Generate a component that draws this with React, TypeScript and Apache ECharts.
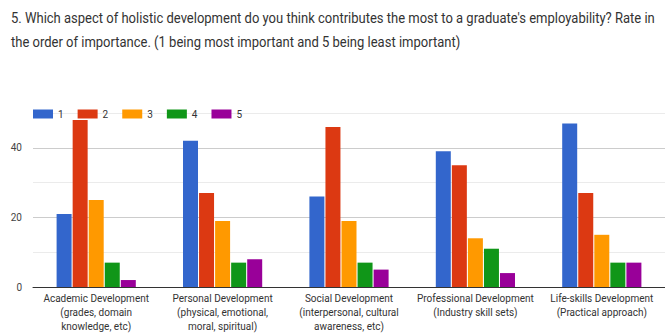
import React, { useEffect, useRef } from "react";
import * as echarts from "echarts";

const categories = [
  "Academic Development\n(grades, domain\nknowledge, etc)",
  "Personal Development\n(physical, emotional,\nmoral, spiritual)",
  "Social Development\n(interpersonal, cultural\nawareness, etc)",
  "Professional Development\n(Industry skill sets)",
  "Life-skills Development\n(Practical approach)",
];
const seriesNames = ["1", "2", "3", "4", "5"];
const rank1 = [21, 42, 26, 39, 47];
const rank2 = [48, 27, 46, 35, 27];
const rank3 = [25, 19, 19, 14, 15];
const rank4 = [7, 7, 7, 11, 7];
const rank5 = [2, 8, 5, 4, 7];
const colors = ["#3366cc", "#dc3912", "#ff9900", "#109618", "#990099"];
const titleLines = [
  "5. Which aspect of holistic development do you think contributes the most to a graduate's employability? Rate in",
  "the order of importance. (1 being most important and 5 being least important)",
];

export default function App() {
  const ref = useRef<HTMLDivElement>(null);
  useEffect(() => {
    if (!ref.current) return;
    const chart = echarts.init(ref.current, null, { renderer: "svg" });
    const data = [rank1, rank2, rank3, rank4, rank5];
    chart.setOption({
      animation: false,
      color: colors,
      textStyle: { fontFamily: "Roboto" },
      graphic: titleLines.map((t, i) => ({
        type: "text",
        x: 11,
        y: 18 + i * 24,
        scaleX: 0.93,
        style: {
          text: t,
          fontSize: 14,
          fontFamily: "Roboto",
          fill: "#333",
          textVerticalAlign: "middle",
        },
      })),
      legend: {
        left: 33,
        top: 109,
        padding: 0,
        itemWidth: 20,
        itemHeight: 9,
        itemGap: 14,
        icon: "rect",
        textStyle: { fontSize: 10, color: "#333" },
        data: seriesNames,
      },
      grid: { left: 33, right: -11, top: 113, bottom: 45 },
      xAxis: {
        type: "category",
        data: categories,
        axisTick: { show: false },
        axisLine: { lineStyle: { color: "#333" } },
        axisLabel: {
          fontSize: 10,
          color: "#333",
          lineHeight: 14,
          margin: 4,
          interval: 0,
        },
      },
      yAxis: {
        type: "value",
        min: 0,
        max: 50,
        interval: 10,
        axisLine: { show: false },
        axisTick: { show: false },
        axisLabel: {
          fontSize: 10,
          color: "#444",
          margin: 11,
          formatter: (v: number) => (v % 20 === 0 ? String(v) : ""),
        },
        splitLine: {
          lineStyle: {
            color: ["#cccccc", "#ebebeb", "#cccccc", "#ebebeb", "#cccccc", "#ebebeb"],
          },
        },
      },
      series: data.map((d, i) => ({
        name: seriesNames[i],
        type: "bar",
        data: d,
        barWidth: 15,
        barGap: "7%",
        barCategoryGap: "38%",
      })),
    });
    return () => chart.dispose();
  }, []);
  return (
    <div
      ref={ref}
      style={{ position: "fixed", left: 0, top: 0, width: 665, height: 333, background: "#fff" }}
    />
  );
}
